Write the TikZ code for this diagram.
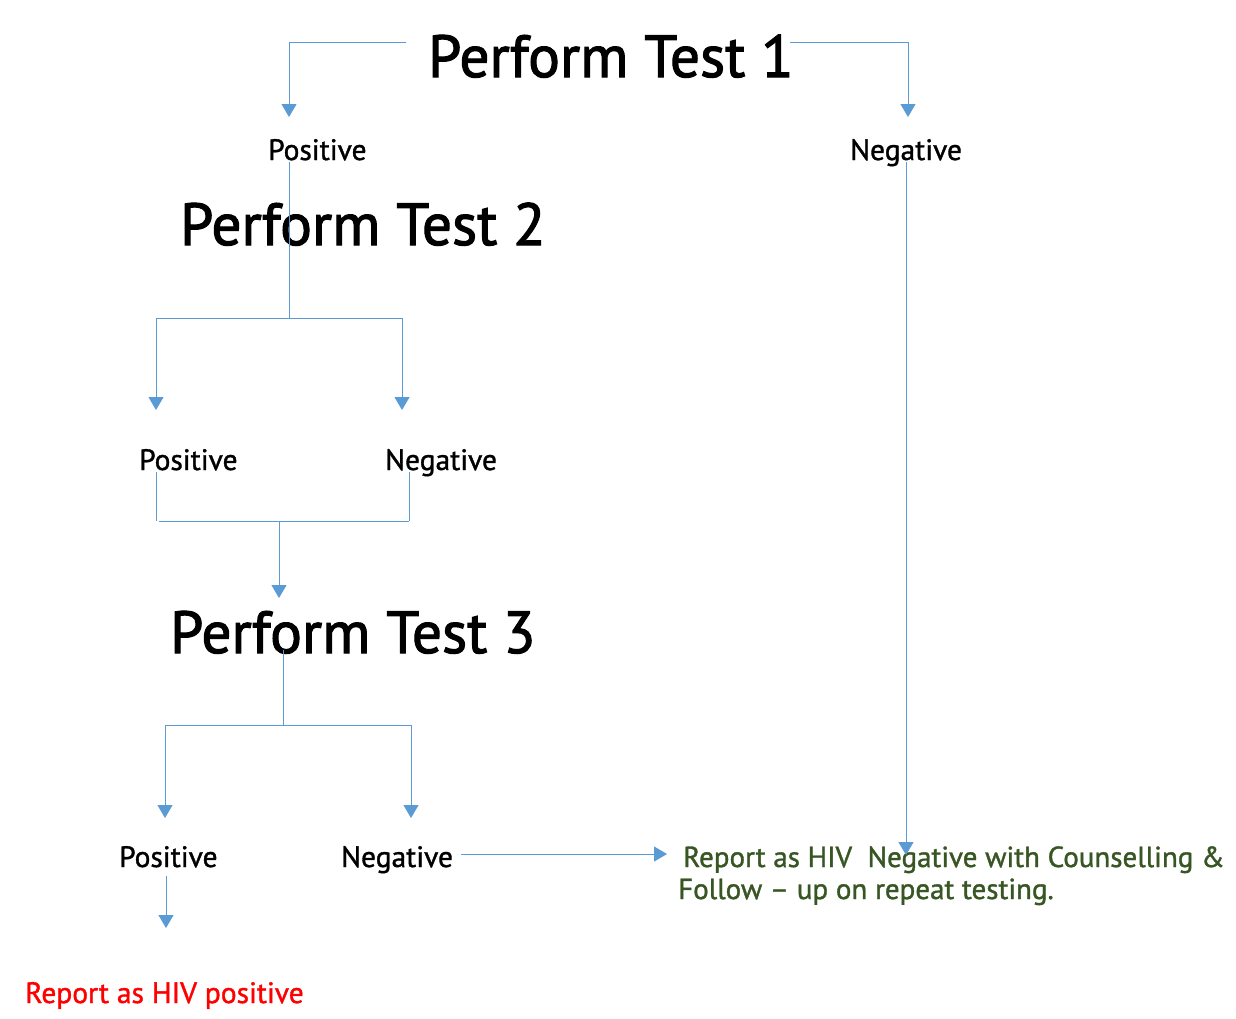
\documentclass[tikz,border=0pt]{standalone}
\usepackage{fontspec}
\setmainfont{PT Sans}[FakeBold=1.2]
\newfontfamily\titlefont{PT Sans}[FakeBold=1.8]
\usetikzlibrary{arrows.meta}
\definecolor{lnblue}{HTML}{5B9BD5}
\definecolor{dkgreen}{HTML}{375623}
\begin{document}
\begin{tikzpicture}[x=1pt,y=-1pt,
  title/.style={anchor=base west,inner sep=0pt,font=\titlefont\fontsize{59.5}{60}\selectfont},
  lbl/.style={anchor=base west,inner sep=0pt,font=\fontsize{29.5}{29}\selectfont},
  grn/.style={anchor=base west,inner sep=0pt,text=dkgreen,font=\fontsize{29}{29}\selectfont},
  conn/.style={draw=lnblue,line width=1pt},
  arr/.style={conn,-{Triangle[width=15pt,length=13pt]},color=lnblue}]
\useasboundingbox[fill=white] (0,0) rectangle (1236,1018);
% texts
\node[title] (t1) at (428,77) {Perform Test 1};
\node[lbl] (p1) at (268,160) {Positive};
\node[lbl] (n1) at (850,160) {Negative};
\node[title] (t2) at (180,245) {Perform Test 2};
\node[lbl] (p2) at (139,470) {Positive};
\node[lbl] (n2) at (385,470) {Negative};
\node[title] (t3) at (170,653) {Perform Test 3};
\node[lbl] (p3) at (119,867) {Positive};
\node[lbl] (n3) at (341,867) {Negative};
\node[lbl,text=red] (hivpos) at (25,1003) {Report as HIV positive};
\node[grn] (neg1) at (683,867) {Report as HIV\ \ Negative with Counselling \&};
\node[grn] (neg2) at (678,899) {Follow – up on repeat testing.};
% coordinates
\coordinate (t1l) at (406,42);
\coordinate (t1r) at (790,42);
\coordinate (p1top) at (289,117);
\coordinate (n1top) at (908,117);
\coordinate (p1bot) at (289,162);
\coordinate (t2split) at (289,318);
\coordinate (p2top) at (156,410);
\coordinate (n2top) at (402,410);
\coordinate (p2bot) at (156,472);
\coordinate (n2bot) at (409,472);
\coordinate (p2join) at (156,521);
\coordinate (n2join) at (409,521);
\coordinate (joinL) at (159,521);
\coordinate (joinM) at (279,521);
\coordinate (t3top) at (279,598);
\coordinate (t3bot) at (283,650);
\coordinate (t3split) at (283,725);
\coordinate (p3top) at (165,818);
\coordinate (n3top) at (411,818);
\coordinate (p3bot) at (166,876);
\coordinate (hivtop) at (166,928);
\coordinate (n3right) at (461,854);
\coordinate (negL) at (667,854);
\coordinate (n1bot) at (906,162);
\coordinate (negtop) at (906,855);
% connectors
\draw[arr] (t1l) -| (p1top);
\draw[arr] (t1r) -| (n1top);
\draw[conn] (p1bot) -- (t2split);
\draw[arr] (t2split) -| (p2top);
\draw[arr] (t2split) -| (n2top);
\draw[conn] (p2bot) -- (p2join);
\draw[conn] (n2bot) -- (n2join);
\draw[conn] (joinL) -- (n2join);
\draw[arr] (joinM) -- (t3top);
\draw[conn] (t3bot) -- (t3split);
\draw[arr] (t3split) -| (p3top);
\draw[arr] (t3split) -| (n3top);
\draw[arr] (p3bot) -- (hivtop);
\draw[arr] (n3right) -- (negL);
\draw[arr] (n1bot) -- (negtop);
\end{tikzpicture}
\end{document}
